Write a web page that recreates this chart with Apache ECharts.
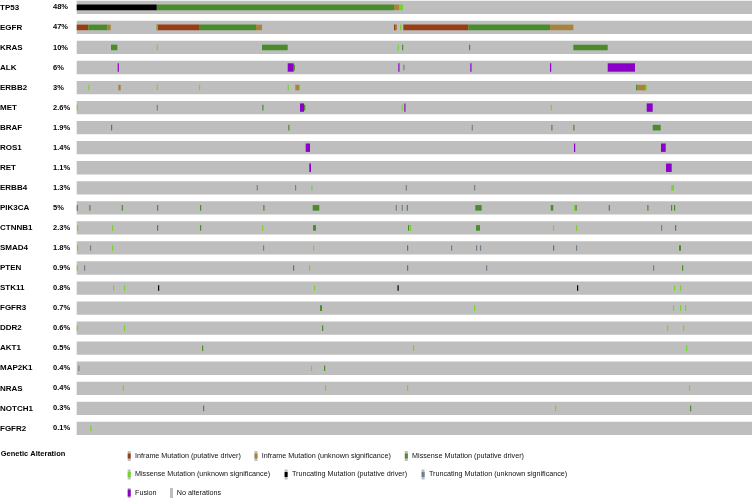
<!DOCTYPE html>
<html><head><meta charset="utf-8">
<script src="https://cdn.jsdelivr.net/npm/echarts@6/dist/echarts.min.js"></script>
<style>html,body{margin:0;padding:0;background:#fff}#c{width:753px;height:498px}</style>
</head><body><div id="c"></div>
<script>
// ---------- data ----------
const genes = ['TP53','EGFR','KRAS','ALK','ERBB2','MET','BRAF','ROS1','RET','ERBB4','PIK3CA','CTNNB1','SMAD4','PTEN','STK11','FGFR3','DDR2','AKT1','MAP2K1','NRAS','NOTCH1','FGFR2'];
const percents = ['48%','47%','10%','6%','3%','2.6%','1.9%','1.4%','1.1%','1.3%','5%','2.3%','1.8%','0.9%','0.8%','0.7%','0.6%','0.5%','0.4%','0.4%','0.3%','0.1%'];
const sampleSpan = 675.3; // sample axis extent
// alteration segments per gene: [startSample, endSample, typeCode]
const TP53 = [[0,80,'TD'],[80,317.3,'MD'],[317.3,322.8,'IU'],[322.8,326.3,'MU']];
const EGFR = [[0,11.6,'ID'],[11.6,30.6,'MD'],[30.6,34,'IU'],[80,81,'MU'],[80,122.3,'ID'],[122.3,179.3,'MD'],[179.3,185.3,'IU'],[317.3,319,'ID'],[319,320.3,'IU'],[323.3,324.8,'MU'],[326.6,391.6,'ID'],[391.6,473.3,'MD'],[473.3,496.6,'IU']];
const KRAS = [[34.3,40.6,'MD'],[80,81.2,'MU'],[185.3,211,'MD'],[321,322.2,'MU'],[325.3,326.5,'MD'],[392.3,393.5,'MD'],[496.6,531,'MD']];
const ALK = [[41,42.2,'FU'],[211,217,'FU'],[217,218.2,'MD'],[321.6,322.8,'FU'],[326.6,327.8,'TU'],[393.6,394.8,'FU'],[473.3,474.5,'FU'],[531,558.3,'FU']];
const ERBB2 = [[11.6,12.8,'MU'],[41.6,44,'IU'],[80,81.2,'MU'],[122.3,123.5,'MU'],[211,212.2,'MU'],[218.6,222.3,'IU'],[222.3,223.5,'MU'],[559.3,560.6,'MD'],[560.6,569,'IU'],[569,570.2,'MU']];
const MET = [[0,1.2,'MU'],[80,81.2,'TU'],[185.6,186.8,'MD'],[223.3,227.3,'FU'],[227.3,228.6,'MD'],[325,326.2,'MU'],[327.6,328.8,'FU'],[474,475.2,'MU'],[570,576,'FU']];
const BRAF = [[34.3,35.5,'MD'],[211.6,212.8,'MD'],[395,396.2,'TU'],[474.6,475.8,'MD'],[496.6,497.8,'MD'],[576,584,'MD']];
const ROS1 = [[229,233.3,'FU'],[497.3,498.5,'FU'],[584.3,589,'FU']];
const RET = [[232.6,234.3,'FU'],[589.3,595,'FU']];
const ERBB4 = [[180,181.2,'TU'],[218.3,219.5,'TU'],[234.6,235.8,'MU'],[329,330.2,'TU'],[397.3,398.5,'TU'],[594.6,597.3,'MU']];
const PIK3CA = [[0,1.2,'MD'],[12.6,13.8,'MD'],[45,46.2,'MD'],[80.3,81.5,'MD'],[123.3,124.5,'MD'],[186.6,187.8,'MD'],[236,242.6,'MD'],[319,320.2,'TU'],[325,326.2,'TU'],[330,331.2,'MD'],[398.6,405,'MD'],[474,476.6,'MD'],[497.3,498.6,'MU'],[498.6,500,'MD'],[532,533.2,'MD'],[570.6,571.8,'MD'],[594.3,595.5,'MD'],[597.3,598.5,'MD']];
const CTNNB1 = [[0.3,1.5,'MU'],[35.3,36.5,'MU'],[80.3,81.5,'MD'],[123.3,124.5,'MD'],[185.3,186.5,'MU'],[236.3,239.3,'MD'],[331.3,332.5,'MD'],[333.3,334.5,'MU'],[399.3,403.3,'MD'],[476.3,477.5,'MU'],[499.3,500.5,'MU'],[584.3,585.5,'TU'],[598.3,599.5,'MD']];
const SMAD4 = [[0.3,1.5,'MU'],[13.3,14.5,'TU'],[35.3,36.5,'MU'],[186.3,187.5,'TU'],[236.3,237.5,'MU'],[330.3,331.5,'MD'],[374.3,375.5,'TU'],[399.3,400.5,'TU'],[403.3,404.5,'TU'],[476.3,477.5,'MD'],[499.3,500.5,'TU'],[602.3,604.3,'MD']];
const PTEN = [[0,1.2,'MU'],[7.3,8.5,'TU'],[216.3,217.5,'MD'],[232.3,233.5,'MU'],[330.3,331.5,'MD'],[409.3,410.5,'TU'],[576.3,577.5,'TU'],[605.3,606.5,'MD']];
const STK11 = [[36.3,37.5,'MU'],[47.3,48.5,'MU'],[81.3,82.5,'TD'],[237.3,238.5,'MU'],[320.8,322,'TD'],[500.3,501.5,'TD'],[597.3,598.5,'MU'],[603.3,604.5,'MU']];
const FGFR3 = [[243.3,245.3,'MD'],[397.3,398.5,'MU'],[596.3,597.5,'MU'],[603.3,604.5,'MU'],[608.3,609.5,'MU']];
const DDR2 = [[0,1.2,'MU'],[47.3,48.5,'MU'],[245.3,246.5,'MD'],[590.3,591.5,'MU'],[606.3,607.5,'MU']];
const AKT1 = [[125.3,126.5,'MD'],[336.3,337.5,'MU'],[609.3,610.5,'MU']];
const MAP2K1 = [[1.6,2.8,'TU'],[234.3,235.5,'MU'],[247.3,248.5,'MD']];
const NRAS = [[46,47.2,'MU'],[248.3,249.5,'MU'],[330.3,331.5,'MU'],[612.3,613.5,'MU']];
const NOTCH1 = [[126.3,127.5,'MD'],[478.3,479.5,'MU'],[613.3,614.5,'MD']];
const FGFR2 = [[13.6,14.8,'MU']];
const geneSegments = [TP53,EGFR,KRAS,ALK,ERBB2,MET,BRAF,ROS1,RET,ERBB4,PIK3CA,CTNNB1,SMAD4,PTEN,STK11,FGFR3,DDR2,AKT1,MAP2K1,NRAS,NOTCH1,FGFR2];
const typeCodes = ['ID','IU','MD','MU','TD','TU','FU'];
const typeNames = ['Inframe Mutation (putative driver)','Inframe Mutation (unknown significance)','Missense Mutation (putative driver)','Missense Mutation (unknown significance)','Truncating Mutation (putative driver)','Truncating Mutation (unknown significance)','Fusion'];
const noAltName = 'No alterations';

// ---------- styling ----------
const typeColors = {ID:'#993d14',IU:'#a8843a',MD:'#4a8c2c',MU:'#74d42a',TD:'#000000',TU:'#708090',FU:'#8B00C9'};
const bgColor = '#BEBEBE';
const FONT = 'Liberation Sans, Arial, sans-serif';
const BAR_H = 13.3, MUT_H = 5.6, FUS_H = 8.4;

function rectItem(h){
  return function(params, api){
    const p0 = api.coord([api.value(0), api.value(2)]);
    const p1 = api.coord([api.value(1), api.value(2)]);
    return {type:'rect', shape:{x:p0[0], y:p0[1]-h/2, width:Math.max(p1[0]-p0[0],1.1), height:h},
      style:{fill: api.visual('color')}};
  };
}

const series = [{
  type:'custom', name:noAltName, renderItem: rectItem(BAR_H), itemStyle:{color:bgColor},
  encode:{x:[0,1], y:2}, data: genes.map((g,i)=>[0, sampleSpan, i]), silent:true, clip:false
}];
typeCodes.forEach((code, k)=>{
  const data = [];
  geneSegments.forEach((segs, row)=>segs.forEach(s=>{ if (s[2]===code) data.push([s[0], s[1], row]); }));
  series.push({type:'custom', name:typeNames[k], renderItem: rectItem(code==='FU'?FUS_H:MUT_H),
    itemStyle:{color:typeColors[code]}, encode:{x:[0,1], y:2}, data, clip:false});
});

// legend (graphic)
const legendPos = [[127.7,456],[254.5,456],[404.8,456],[127.7,474.5],[284.6,474.5],[421.6,474.5],[127.7,493]];
const graphic = [{type:'text', left:0.7, top:449.5, style:{text:'Genetic Alteration', font:'bold 7.5px '+FONT, fill:'#000'}}];
function swatch(x, y, color, h){
  graphic.push({type:'rect', shape:{x:x, y:y-5, width:3, height:10}, style:{fill:bgColor}});
  if (color) graphic.push({type:'rect', shape:{x:x, y:y-h/2, width:3, height:h}, style:{fill:color}});
}
typeCodes.forEach((code,k)=>{
  const [x,y] = legendPos[k];
  swatch(x, y, typeColors[code], code==='FU'?7:5);
  graphic.push({type:'text', x:x+7.3, y:y, style:{text:typeNames[k], font:'7.2px '+FONT, fill:'#111', verticalAlign:'middle'}});
});
swatch(170, 493, null, 0);
graphic.push({type:'text', x:176.8, y:493, style:{text:noAltName, font:'7.2px '+FONT, fill:'#111', verticalAlign:'middle'}});

const chart = echarts.init(document.getElementById('c'), null, {renderer:'canvas'});
chart.setOption({
  animation:false,
  grid:{left:76.7, right:1, top:-2.675, height:441.1, containLabel:false, outerBoundsMode:'none'},
  xAxis:{type:'value', min:0, max:sampleSpan, show:false},
  yAxis:{type:'category', inverse:true, data:genes, boundaryGap:true,
    axisLine:{show:false}, axisTick:{show:false}, splitLine:{show:false},
    axisLabel:{margin:76.7, align:'left', interval:0, hideOverlap:false,
      formatter:(v, i)=>'{g|'+v+'}{p|'+percents[i]+'}',
      rich:{g:{width:53, fontSize:8, fontWeight:'bold', fontFamily:FONT, color:'#000'},
            p:{fontSize:7.5, fontWeight:'bold', fontFamily:FONT, color:'#000'}}}},
  series, graphic
});
</script></body></html>
